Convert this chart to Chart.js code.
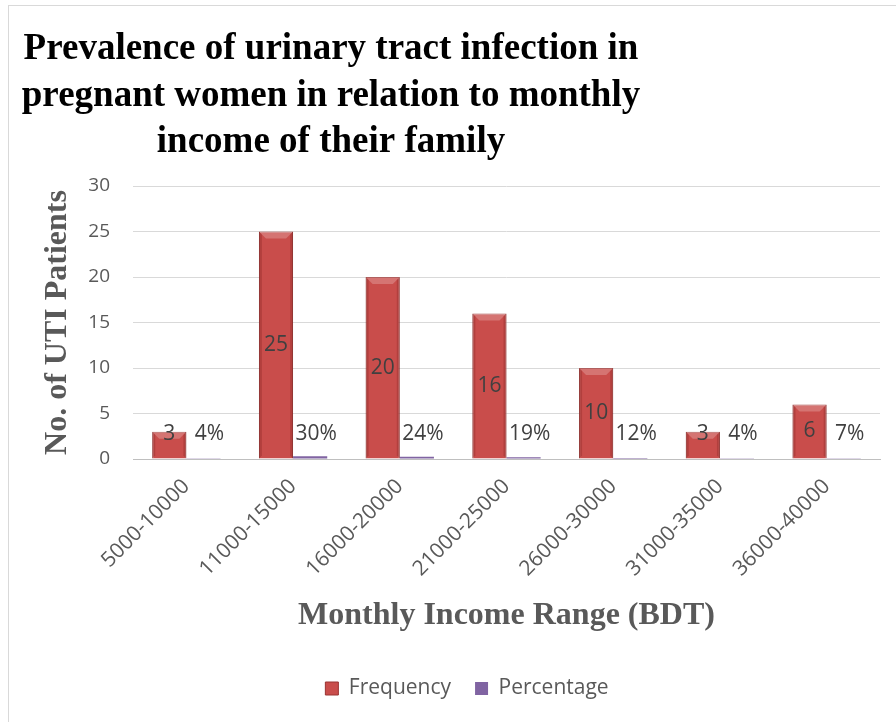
<!DOCTYPE html>
<html>
<head>
<meta charset="utf-8">
<script src="https://cdn.jsdelivr.net/npm/chart.js@4.4.1/dist/chart.umd.min.js"></script>
<style>
  html, body { margin: 0; padding: 0; background: #fff; overflow: hidden; }
  #frame { position: absolute; left: 8px; top: 5px; width: 916px; height: 740px; border: 1px solid #d9d9d9; }
  canvas { display: block; }
</style>
</head>
<body>
<div id="frame"><canvas id="utiChart" width="916" height="740"></canvas></div>
<script>
// income groups and counts
const incomeRanges = ['5000-10000', '11000-15000', '16000-20000', '21000-25000', '26000-30000', '31000-35000', '36000-40000'];
const frequency = [3, 25, 20, 16, 10, 3, 6];
const percentage = [0.04, 0.30, 0.24, 0.19, 0.12, 0.04, 0.07];
const yTicks = [0, 5, 10, 15, 20, 25, 30];
const titleLines = ['Prevalence of urinary tract infection in', 'pregnant women in relation to monthly', 'income of their family'];

const grey = '#595959';

// title is drawn by hand so it can sit left of centre
const titlePlugin = {
    id: 'leftTitle',
    afterDraw(chart) {
        const ctx = chart.ctx;
        ctx.save();
        ctx.font = 'bold 37px "Liberation Serif", "Times New Roman", serif';
        ctx.fillStyle = '#000';
        ctx.textAlign = 'center';
        ctx.textBaseline = 'middle';
        const ys = [43, 90, 136];
        titleLines.forEach((line, i) => ctx.fillText(line, 322, ys[i]));
        ctx.restore();
    }
};

// small bevel on the frequency bars
const bevelPlugin = {
    id: 'bevel',
    afterDatasetDraw(chart, args) {
        if (args.index !== 0) return;
        const ctx = chart.ctx;
        ctx.save();
        args.meta.data.forEach(bar => {
            const l = bar.x - bar.width / 2, r = bar.x + bar.width / 2;
            const t = bar.y, b = bar.base;
            const d = Math.min(7, (b - t) / 3);
            ctx.fillStyle = 'rgba(255,255,255,0.22)';
            ctx.beginPath();
            ctx.moveTo(l, t); ctx.lineTo(r, t); ctx.lineTo(r - d, t + d); ctx.lineTo(l + d, t + d);
            ctx.closePath(); ctx.fill();
            ctx.fillStyle = 'rgba(80,0,0,0.18)';
            ctx.beginPath();
            ctx.moveTo(l, t); ctx.lineTo(l + 3, t + 3); ctx.lineTo(l + 3, b - 3); ctx.lineTo(l, b);
            ctx.closePath(); ctx.fill();
            ctx.beginPath();
            ctx.moveTo(r, t); ctx.lineTo(r - 3, t + 3); ctx.lineTo(r - 3, b - 3); ctx.lineTo(r, b);
            ctx.closePath(); ctx.fill();
        });
        ctx.restore();
    }
};

// value labels on both series
const labelPlugin = {
    id: 'barLabels',
    afterDatasetsDraw(chart) {
        const ctx = chart.ctx;
        ctx.save();
        ctx.font = '21px "Open Sans", sans-serif';
        ctx.fillStyle = '#404040';
        ctx.textAlign = 'center';
        ctx.textBaseline = 'middle';
        chart.data.datasets.forEach((ds, di) => {
            const meta = chart.getDatasetMeta(di);
            meta.data.forEach((bar, i) => {
                const v = ds.data[i];
                const text = di === 0 ? String(v) : Math.round(v * 100) + '%';
                const y = Math.min((bar.y + bar.base) / 2, bar.base - 24);
                ctx.fillText(text, bar.x + (di === 1 ? 6 : 0), y);
            });
        });
        ctx.restore();
    }
};

const ctx = document.getElementById('utiChart').getContext('2d');

new Chart(ctx, {
    type: 'bar',
    data: {
        labels: incomeRanges,
        datasets: [{
            label: 'Frequency',
            data: frequency,
            backgroundColor: '#c94d4b',
            borderColor: '#9a3432',
            borderWidth: 1
        }, {
            label: 'Percentage',
            data: percentage,
            backgroundColor: '#8064a2',
            borderColor: '#8064a2',
            borderWidth: 0
        }]
    },
    options: {
        responsive: false,
        animation: false,
        datasets: {
            bar: { categoryPercentage: 0.64, barPercentage: 1 }
        },
        layout: {
            padding: { top: 180, right: 0, bottom: 37, left: 0 }
        },
        plugins: {
            title: { display: false },
            tooltip: { enabled: false },
            legend: {
                position: 'bottom',
                labels: {
                    boxWidth: 13,
                    boxHeight: 13,
                    padding: 24,
                    color: grey,
                    font: { family: '"Open Sans", sans-serif', size: 21 }
                }
            }
        },
        scales: {
            x: {
                afterFit(scale) { scale.height = 195; },
                grid: { display: false, drawTicks: false },
                border: { color: '#bfbfbf' },
                ticks: {
                    color: grey,
                    minRotation: 45,
                    maxRotation: 45,
                    padding: 15,
                    font: { family: '"Open Sans", sans-serif', size: 21 }
                },
                title: {
                    display: true,
                    text: 'Monthly Income Range (BDT)',
                    color: grey,
                    padding: { top: 0, bottom: 19 },
                    font: { family: '"Liberation Serif", "Times New Roman", serif', size: 32, weight: 'bold' }
                }
            },
            y: {
                min: 0,
                max: 30,
                afterFit(scale) { scale.width = 124; },
                afterBuildTicks(scale) { scale.ticks = yTicks.map(v => ({ value: v })); },
                grid: { color: '#d9d9d9', drawTicks: false },
                border: { display: false },
                ticks: {
                    color: grey,
                    padding: 23,
                    font: { family: '"Open Sans", sans-serif', size: 19 }
                },
                title: {
                    display: true,
                    text: 'No. of UTI Patients',
                    color: grey,
                    padding: { top: 30, bottom: 0 },
                    font: { family: '"Liberation Serif", "Times New Roman", serif', size: 32, weight: 'bold' }
                }
            },
            // empty right-hand margin so the plot stops short of the frame edge
            yRight: {
                position: 'right',
                afterFit(scale) { scale.width = 45; },
                grid: { display: false, drawTicks: false },
                border: { display: false },
                ticks: { display: false }
            }
        }
    },
    plugins: [titlePlugin, bevelPlugin, labelPlugin]
});
</script>
</body>
</html>
